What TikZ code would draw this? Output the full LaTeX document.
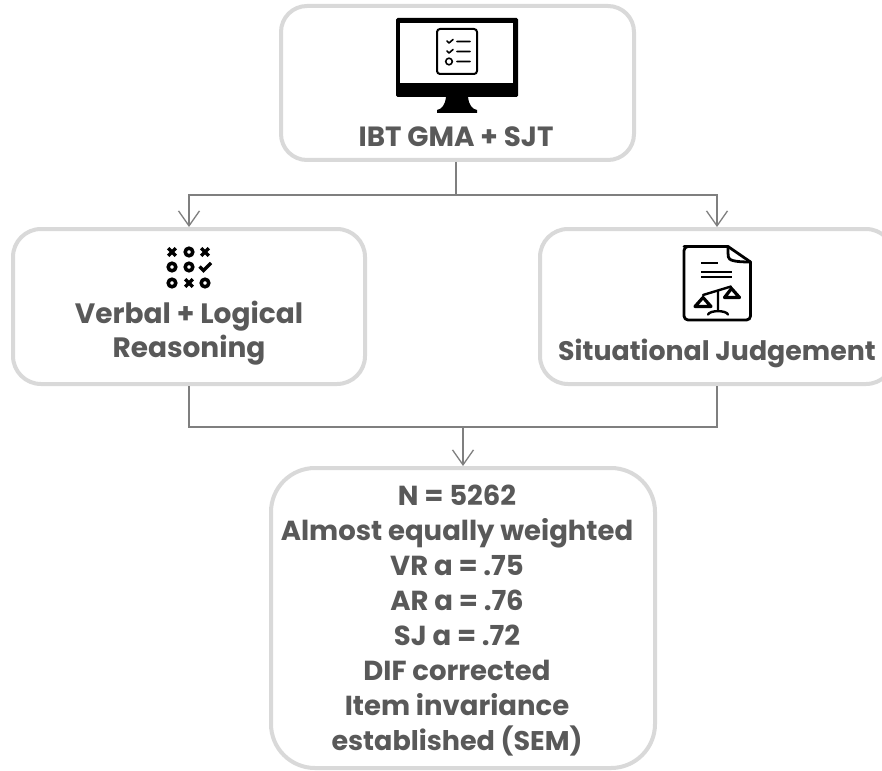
\documentclass[tikz,border=0pt]{standalone}
\usepackage{fontspec}
\setmainfont{Poppins}[UprightFont=*-Bold,BoldFont=*-Bold]
\usetikzlibrary{arrows.meta}
\definecolor{boxline}{HTML}{D9D9D9}
\definecolor{conncol}{HTML}{7F7F7F}
\definecolor{txt}{HTML}{595959}
\tikzset{
  card/.style={draw=boxline,line width=4pt,rounded corners=#1,fill=white,inner sep=0pt,outer sep=2pt,anchor=north west},
  lab/.style={text=txt,font=\fontsize{#1}{35}\selectfont,inner sep=0pt,align=center,anchor=base},
  lab/.default=27.5,
  conn/.style={draw=conncol,line width=1.3pt},
  arr/.style={conn,-{Straight Barb[length=15pt,width=21pt,line width=1.3pt]}},
  ink/.style={line width=2pt,draw=black,line cap=round,line join=round}
}
\begin{document}
\begin{tikzpicture}[x=1pt,y=-1pt]
\clip (0,0) rectangle (882,770);
\fill[white] (0,0) rectangle (882,770);
\node[card=26pt,minimum width=353pt,minimum height=154pt] (top) at (279,4) {};
\node[card=28pt,minimum width=352pt,minimum height=155pt] (left) at (11,227) {};
\node[card=28pt,minimum width=354pt,minimum height=155pt] (right) at (538,227) {};
\node[card=44pt,minimum width=384pt,minimum height=300pt] (bottom) at (269,466) {};
\coordinate (jt) at (456,195);
\coordinate (jb) at (463,427);
\draw[conn] (456,162) -- (jt);
\draw[arr] (jt) -| (left.north);
\draw[arr] (jt) -| (right.north);
\draw[conn] (left.south) |- (jb);
\draw[conn] (right.south) |- (jb);
\draw[arr] (jb) -- (bottom.north -| jb);
\node[lab=27.8] (t1) at (456,147) {IBT GMA + SJT};
\node[lab=28] (t2) at (189,323) {Verbal + Logical};
\node[lab=28] (t3) at (189,357) {Reasoning};
\node[lab=26.8] (t4) at (717,360) {Situational Judgement};
\node[lab] (b1) at (457,505) {N = 5262};
\node[lab] (b2) at (457,540) {Almost equally weighted};
\node[lab] (b3) at (457,575) {VR a = .75};
\node[lab] (b4) at (457,610) {AR a = .76};
\node[lab] (b5) at (457,645) {SJ a = .72};
\node[lab] (b6) at (457,680) {DIF corrected};
\node[lab] (b7) at (457,715) {Item invariance};
\node[lab=27] (b8) at (457,750) {established (SEM)};
% monitor icon
\fill[black,rounded corners=1.5pt] (396,18) rectangle (518,97);
\fill[white] (400,23) rectangle (513,83);
\fill[black] (446,97) -- (468,97) .. controls (469,105) and (472,109) .. (477,110) -- (477,113) -- (437,113) -- (437,110) .. controls (442,109) and (445,105) .. (446,97) -- cycle;
\draw[ink,rounded corners=3pt] (437,29) rectangle (477,74);
\draw[ink,line width=1.6pt] (447,41) -- (449,43) -- (453,39.5) (457,41.5) -- (470,41.5);
\draw[ink,line width=1.6pt] (447,51) -- (449,53) -- (453,49.5) (457,51.5) -- (470,51.5);
\draw[ink,line width=1.6pt] (449,61.5) circle (3.3) (457,61.5) -- (470,61.5);
% grid icon
\foreach \c/\r in {189/252,172/267,189/267,172/283,205/283}
  \draw[line width=3.5pt,black] (\c,\r) circle (3.8);
\foreach \c/\r in {172/252,205/252,189/283}
  \draw[line width=3.5pt,black] (\c-3.8,\r-3.8) -- (\c+3.8,\r+3.8) (\c-3.8,\r+3.8) -- (\c+3.8,\r-3.8);
\draw[line width=3.5pt,black] (199.5,266.5) -- (203.5,270.5) -- (211,263);
% document + scales icon
\draw[ink,line width=2.8pt,rounded corners=4pt] (728,246.5) -- (688,246.5) -- (684,246.5) -- (684,320) -- (750.5,320) -- (750.5,262);
\draw[ink,line width=2.8pt] (728,246.5) -- (750.5,262);
\draw[ink,line width=2.8pt,rounded corners=2pt] (728,246.5) -- (728,255) .. controls (729,260) and (733,262) .. (750.5,262);
\draw[ink,line width=2.4pt,line cap=butt] (701,263) -- (718,263) (701,272) -- (732,272) (701,277) -- (732,277);
\draw[ink,line width=2.4pt] (703,295) -- (731,286.5);
\draw[ink,line width=3.2pt] (703,297.5) -- (695,306.5) -- (711,306.5) -- cycle;
\draw[ink,line width=3.2pt] (731.5,288.5) -- (724.5,297.5) -- (739.5,297.5) -- cycle;
\draw[ink,line width=2.4pt] (718,291) -- (718,311) (708,314.5) .. controls (710,310) and (726,310) .. (728,314.5);
\end{tikzpicture}
\end{document}
